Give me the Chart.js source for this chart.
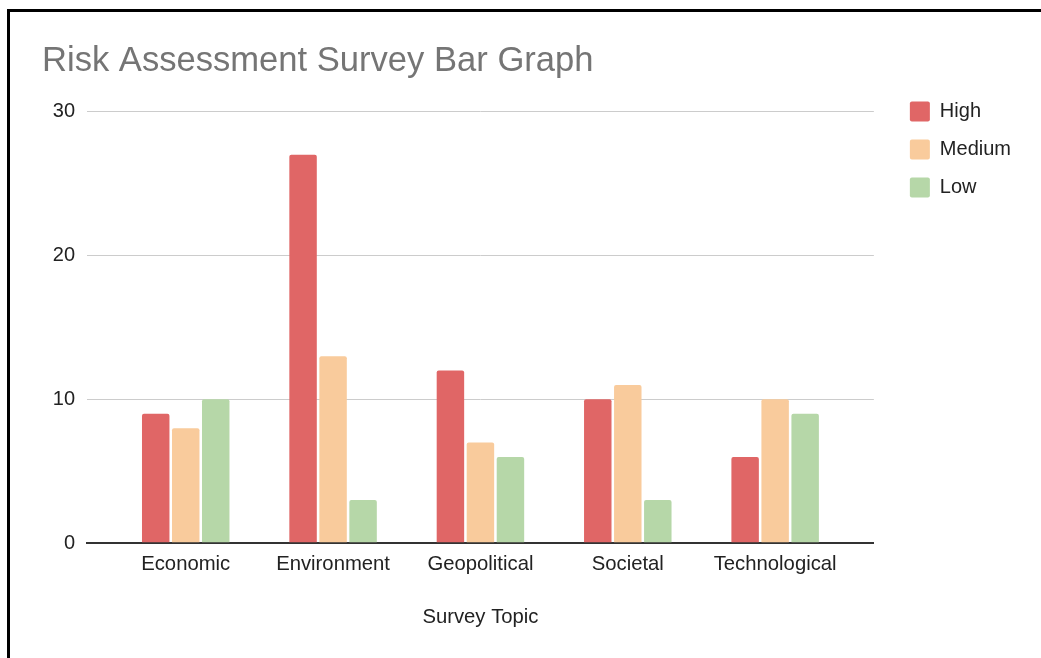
<!DOCTYPE html>
<html>
<head>
<meta charset="utf-8">
<script src="https://cdn.jsdelivr.net/npm/chart.js@4.4.1/dist/chart.umd.min.js"></script>
<style>
  html, body { margin: 0; padding: 0; background: #fff; }
  #frame {
    position: absolute;
    left: 7px;
    top: 9px;
    border-left: 3px solid #000;
    border-top: 3px solid #000;
    width: 1031px;
    height: 646px;
  }
</style>
</head>
<body>
<div id="frame">
  <canvas id="barChart" width="1031" height="646"></canvas>
</div>
<script>
const categories = ['Economic', 'Environment', 'Geopolitical', 'Societal', 'Technological'];
const highValues = [9, 27, 12, 10, 6];
const mediumValues = [8, 13, 7, 11, 10];
const lowValues = [10, 3, 6, 3, 9];
const yTicks = [0, 10, 20, 30];

const font = 'Liberation Sans, Arial, sans-serif';

// bars sit on a linear index axis so the groups keep the side margin of the original
const points = values => values.map((v, i) => ({ x: i, y: v }));

// legend sits a bit higher and further right than Chart.js puts it
const legendShift = {
    id: 'legendShift',
    afterLayout(chart) {
        const lg = chart.legend;
        const dx = chart.chartArea.right + 18 - lg.left;
        const dy = chart.chartArea.top - 28 - lg.top;
        lg.left += dx; lg.right += dx;
        lg.top += dy; lg.bottom += dy;
    }
};

const barCtx = document.getElementById('barChart').getContext('2d');
const barChart = new Chart(barCtx, {
    type: 'bar',
    data: {
        datasets: [{
            label: 'High',
            data: points(highValues),
            backgroundColor: '#e06666'
        }, {
            label: 'Medium',
            data: points(mediumValues),
            backgroundColor: '#f9cb9c'
        }, {
            label: 'Low',
            data: points(lowValues),
            backgroundColor: '#b6d7a8'
        }]
    },
    options: {
        responsive: false,
        animation: false,
        categoryPercentage: 0.611,
        barPercentage: 0.915,
        borderRadius: 2,
        borderSkipped: 'bottom',
        layout: {
            padding: { left: 32, right: 38, top: 0, bottom: 20 }
        },
        scales: {
            x: {
                type: 'linear',
                min: -0.67,
                max: 4.67,
                offset: false,
                grid: { display: false, drawTicks: false, offset: false },
                border: { display: true, color: '#333', width: 2 },
                ticks: {
                    stepSize: 1,
                    includeBounds: false,
                    autoSkip: false,
                    maxRotation: 0,
                    padding: 9,
                    color: '#222',
                    font: { family: font, size: 20.3 },
                    callback: v => categories[v] ?? ''
                },
                title: {
                    display: true,
                    text: 'Survey Topic',
                    color: '#222',
                    font: { family: font, size: 20.3 },
                    padding: { top: 20, bottom: 8 }
                }
            },
            y: {
                min: yTicks[0],
                max: yTicks[yTicks.length - 1],
                afterBuildTicks: s => { s.ticks = yTicks.map(v => ({ value: v })); },
                afterFit: s => { s.width = 45; },
                border: { display: false },
                grid: {
                    drawTicks: false,
                    color: c => c.tick.value === 0 ? '#333' : '#cccccc',
                    lineWidth: c => c.tick.value === 0 ? 2 : 1
                },
                ticks: {
                    padding: 12,
                    color: '#222',
                    font: { family: font, size: 20 }
                }
            }
        },
        plugins: {
            title: {
                display: true,
                text: 'Risk Assessment Survey Bar Graph',
                align: 'start',
                color: '#757575',
                font: { family: font, size: 34.6, weight: 'normal' },
                padding: { top: 29, bottom: 29 }
            },
            legend: {
                position: 'right',
                align: 'start',
                labels: {
                    boxWidth: 20,
                    boxHeight: 20,
                    padding: 18,
                    useBorderRadius: true,
                    borderRadius: 2,
                    color: '#222',
                    font: { family: font, size: 20 }
                }
            },
            tooltip: { enabled: false }
        }
    },
    plugins: [legendShift]
});
</script>
</body>
</html>
